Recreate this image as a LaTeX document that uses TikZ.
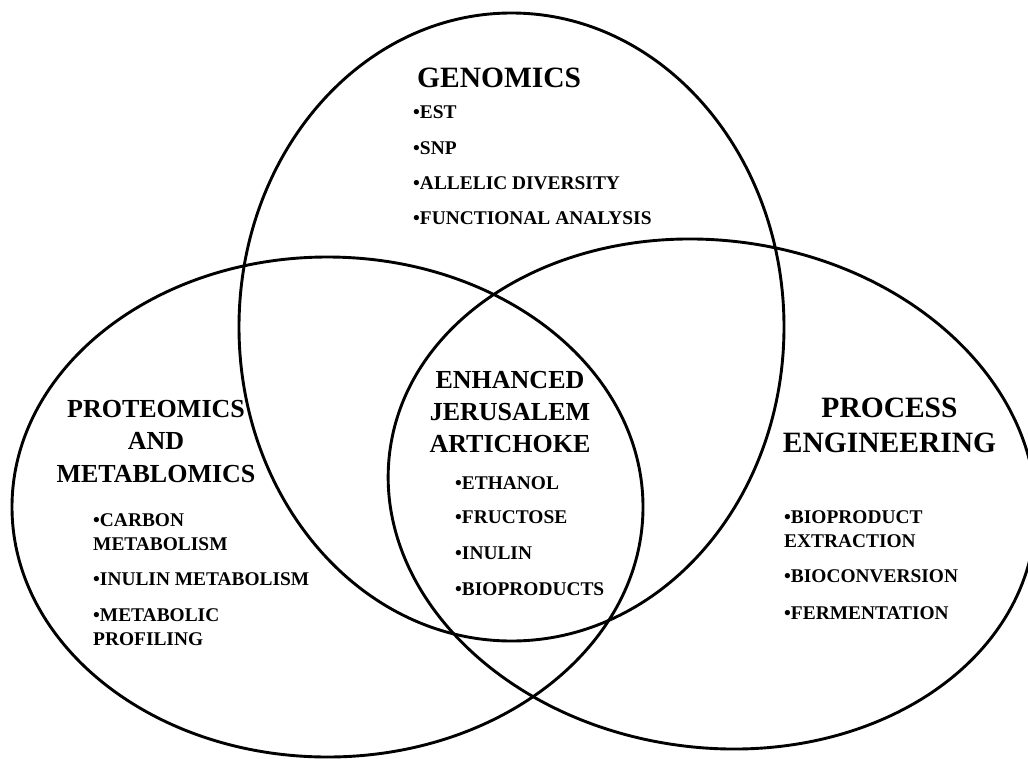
\documentclass[tikz,border=0pt]{standalone}
\usepackage{fontspec}
\setmainfont{Liberation Serif}[BoldFont={Liberation Serif Bold}]
\newfontfamily\tnrb{Liberation Serif Bold}
\begin{document}
\begin{tikzpicture}[x=1pt,y=-1pt,
  ring/.style={line width=2.9pt},
  bigtitle/.style={font=\tnrb\fontsize{29.5}{35}\selectfont, align=center, anchor=base, inner sep=0pt},
  midtitle/.style={font=\tnrb\fontsize{26}{32.5}\selectfont, align=center, anchor=base, inner sep=0pt},
  item/.style={font=\tnrb\fontsize{19.4}{23.5}\selectfont, align=left, anchor=base west, inner sep=0pt}]
\useasboundingbox (0,0) rectangle (1028,758);
\clip (0,0) rectangle (1028,758);
% circles
\draw[ring] (511.5,327) ellipse [x radius=272.5, y radius=314];
\draw[ring] (327.5,507) ellipse [x radius=315.5, y radius=250];
\draw[ring, rotate around={-7.8:(712,494)}] (712,494) ellipse [x radius=325, y radius=253.5];
% genomics
\node[bigtitle, anchor=base west] (gen) at (417,87) {GENOMICS};
\node[item] (g1) at (413,118) {•EST};
\node[item] (g2) at (413,154) {•SNP};
\node[item] (g3) at (413,189) {•ALLELIC DIVERSITY};
\node[item] (g4) at (413,224) {•FUNCTIONAL ANALYSIS};
% proteomics (base anchor = last line)
\node[midtitle] (prot) at (156,482) {PROTEOMICS\\AND\\METABLOMICS};
\node[item] (p1) at (93,550) {•CARBON\\METABOLISM};
\node[item] (p2) at (93,585) {•INULIN METABOLISM};
\node[item] (p3) at (93,645) {•METABOLIC\\PROFILING};
% centre
\node[midtitle, font=\tnrb\fontsize{26}{32}\selectfont] (enh) at (510,452) {ENHANCED\\JERUSALEM\\ARTICHOKE};
\node[item] (e1) at (455,489) {•ETHANOL};
\node[item] (e2) at (455,523) {•FRUCTOSE};
\node[item] (e3) at (455,559) {•INULIN};
\node[item] (e4) at (455,595) {•BIOPRODUCTS};
% process
\node[bigtitle] (proc) at (889.5,452) {PROCESS\\ENGINEERING};
\node[item] (r1) at (784,547) {•BIOPRODUCT\\EXTRACTION};
\node[item] (r2) at (784,582) {•BIOCONVERSION};
\node[item] (r3) at (784,619) {•FERMENTATION};
\end{tikzpicture}
\end{document}
